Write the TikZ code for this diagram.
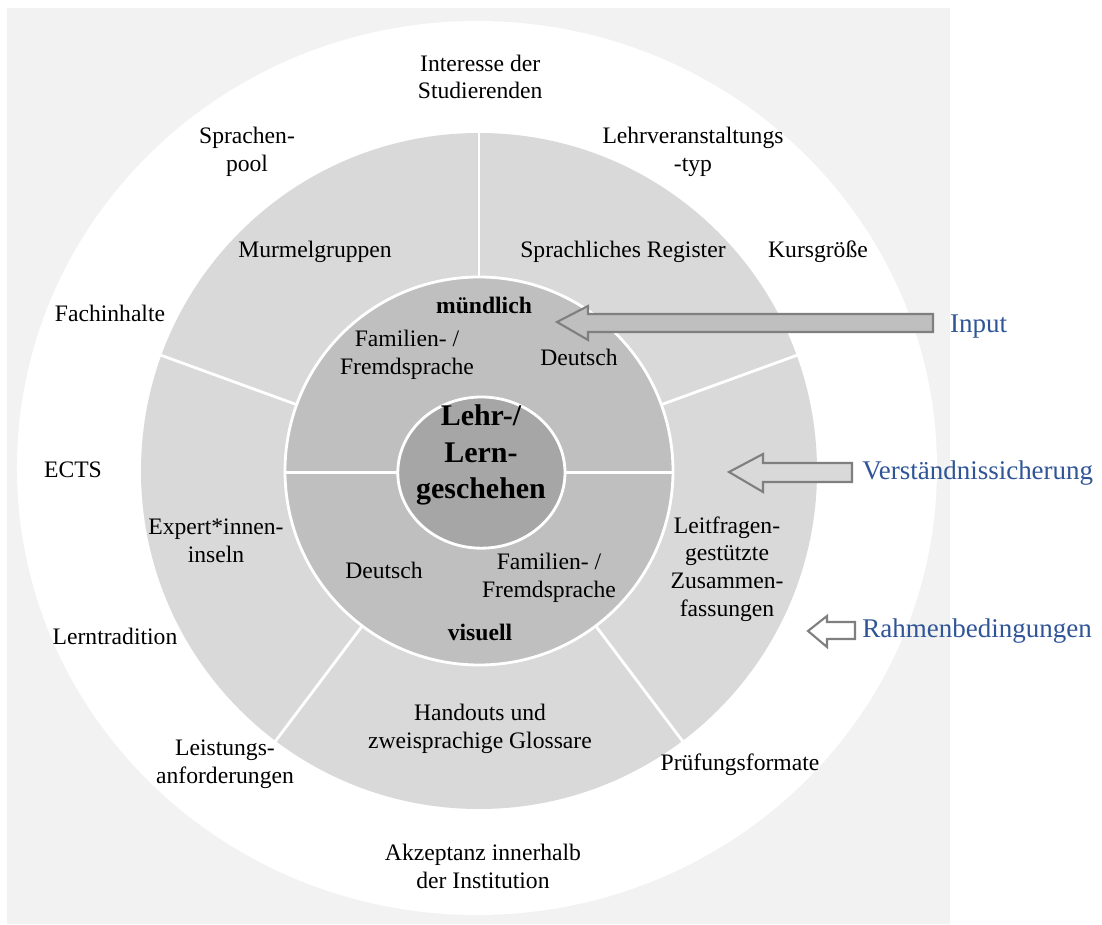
\documentclass[tikz,border=0pt]{standalone}
\usepackage{fontspec}
\setmainfont{Liberation Serif}
\usetikzlibrary{positioning, calc}
\definecolor{bggray}{RGB}{242, 242, 242}
\definecolor{ringgray}{RGB}{217, 217, 217}
\definecolor{diskgray}{RGB}{191, 191, 191}
\definecolor{coregray}{RGB}{166, 166, 166}
\definecolor{arrowgray}{RGB}{127, 127, 127}
\definecolor{labelblue}{RGB}{47, 85, 151}
\tikzstyle{factor} = [align=center, inner sep=0pt, font=\fontsize{16.8}{19.8}\selectfont]
\tikzstyle{mode} = [align=center, inner sep=0pt, font=\fontsize{16.8}{19.8}\selectfont\bfseries]
\tikzstyle{core} = [align=center, inner sep=0pt, font=\fontsize{21.3}{26.2}\selectfont\bfseries]
\tikzstyle{level} = [anchor=west, inner sep=0pt, text=labelblue, font=\fontsize{19.2}{22}\selectfont]
\tikzstyle{spoke} = [white, line width=2pt]
\tikzstyle{blockarrow} = [draw=arrowgray, line width=1.5pt, line join=miter]

\begin{document}
\begin{tikzpicture}
\useasboundingbox (-11.975,-11.325) rectangle (15.575,11.775);

% rings
\fill [bggray] (-11.8,-11.325) rectangle (11.775,11.575);
\fill [white] (-0.05,0.075) ellipse [x radius=11.5, y radius=11.175];
\fill [ringgray] (0,0) circle [radius=8.45];
\foreach \a in {20,90,160,233,307}
  \draw [spoke] (\a:4.8) -- (\a:8.6);
\draw [spoke, fill=diskgray] (0,0) circle [radius=4.85];
\draw [spoke] (-4.85,-0.03) -- (4.85,-0.03);
\draw [spoke, fill=coregray] (0.06,-0.04) ellipse [x radius=2.09, y radius=1.89];

% centre
\node (lehr) [core] at (0.05,0.4) {Lehr-/\\Lern-\\geschehen};

% inner disk
\node (muendlich) [mode] at (0.125,4.15) {mündlich};
\node (familienoben) [factor] at (-1.8,2.9) {Familien- /\\Fremdsprache};
\node (deutschoben) [factor] at (2.5,2.85) {Deutsch};
\node (deutschunten) [factor] at (-2.375,-2.475) {Deutsch};
\node (familienunten) [factor] at (1.75,-2.675) {Familien- /\\Fremdsprache};
\node (visuell) [mode] at (0.025,-4.025) {visuell};

% middle ring
\node (murmel) [factor] at (-4.1,5.475) {Murmelgruppen};
\node (register) [factor] at (3.6,5.475) {Sprachliches Register};
\node (expert) [factor] at (-6.575,-1.75) {Expert*innen-\\inseln};
\node (leitfragen) [factor] at (6.2,-2.45) {Leitfragen-\\gestützte\\Zusammen-\\fassungen};
\node (handouts) [factor] at (0.025,-6.45) {Handouts und\\zweisprachige Glossare};

% outer ring
\node (interesse) [factor] at (0.03,9.85) {Interesse der\\Studierenden};
\node (pool) [factor] at (-5.8,7.975) {Sprachen-\\pool};
\node (typ) [factor] at (5.35,7.975) {Lehrveranstaltungs\\-typ};
\node (kurs) [factor] at (8.475,5.475) {Kursgröße};
\node (fach) [factor] at (-9.225,3.95) {Fachinhalte};
\node (ects) [factor] at (-10.15,0.025) {ECTS};
\node (tradition) [factor] at (-9.1,-4.125) {Lerntradition};
\node (leistung) [factor] at (-6.35,-7.325) {Leistungs-\\anforderungen};
\node (pruefung) [factor] at (6.525,-7.35) {Prüfungsformate};
\node (akzeptanz) [factor] at (0.1,-9.875) {Akzeptanz innerhalb\\der Institution};

% levels
\coordinate (inputtail) at (11.35,3.6);
\coordinate (verstaendnistail) at (9.325,-0.06);
\coordinate (rahmentail) at (9.4,-3.99);
\node (input) [level, right=0.42cm of inputtail] {Input};
\node (verstaendnis) [level, right=0.25cm of verstaendnistail] {Verständnissicherung};
\node (rahmen) [level, right=0.18cm of rahmentail] {Rahmenbedingungen};

% Arrows
\draw [blockarrow, fill=diskgray] (1.95,3.725) -- (2.725,4.125) -- (2.725,3.925) -- (11.35,3.925) -- (11.35,3.475) -- (2.725,3.475) -- (2.725,3.275) -- cycle;
\draw [blockarrow, fill=ringgray] (6.25,-0.025) -- (7.1,0.425) -- (7.1,0.2) -- (9.325,0.2) -- (9.325,-0.275) -- (7.1,-0.275) -- (7.1,-0.525) -- cycle;
\draw [blockarrow, fill=white] (8.225,-4.0) -- (8.7,-3.625) -- (8.7,-3.775) -- (9.4,-3.775) -- (9.4,-4.2) -- (8.7,-4.2) -- (8.7,-4.4) -- cycle;

\end{tikzpicture}
\end{document}
